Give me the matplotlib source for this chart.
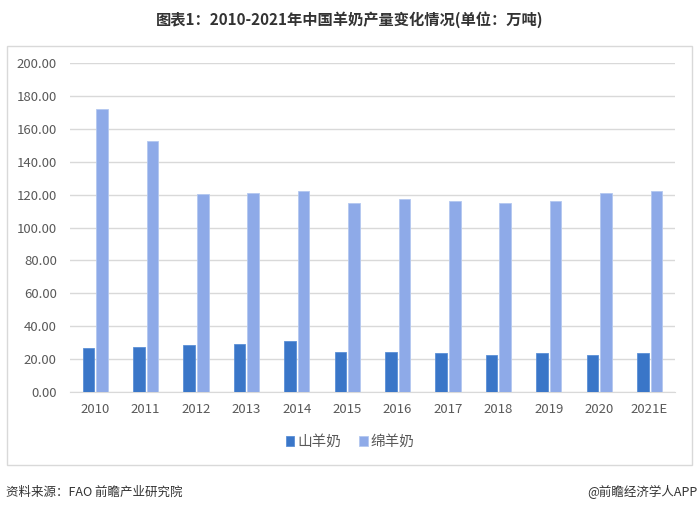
import matplotlib
matplotlib.use('Agg')
import matplotlib.pyplot as plt
import numpy as np
from matplotlib.patches import Rectangle

plt.rcParams['font.family'] = ['Noto Sans CJK SC', 'DejaVu Sans']

# data (万吨)
years = ['2010', '2011', '2012', '2013', '2014', '2015',
         '2016', '2017', '2018', '2019', '2020', '2021E']
goat_milk = [27.0, 27.6, 28.8, 29.4, 31.1, 24.0,
             24.0, 23.4, 22.7, 23.4, 22.7, 23.4]
sheep_milk = [172.0, 152.9, 120.4, 121.0, 122.2, 114.9,
              117.4, 116.1, 114.9, 116.1, 121.0, 122.2]
series_names = ['山羊奶', '绵羊奶']
y_ticks = np.arange(0, 201, 20)

fig = plt.figure(figsize=(7.0, 5.13), dpi=100)
fig.patch.set_facecolor('white')

# outer chart frame
fig.patches.append(Rectangle((0.01, 0.0936), 0.9786, 0.8167, transform=fig.transFigure,
                             fill=False, edgecolor='#d9d9d9', linewidth=1.0))

ax = fig.add_axes([0.10, 0.236, 0.864, 0.641])
x = np.arange(len(years))
w = 0.23
ax.bar(x - 0.135, goat_milk, w, color='#3a76c8', edgecolor='#5b8fd6',
       linewidth=0.6, label=series_names[0], zorder=3)
ax.bar(x + 0.135, sheep_milk, w, color='#8eaae8', edgecolor='#b3c8f0',
       linewidth=0.6, label=series_names[1], zorder=3)

ax.set_ylim(0, 200)
ax.set_xlim(-0.5, len(years) - 0.5)
ax.set_yticks(y_ticks)
ax.set_yticklabels(['{:.2f}'.format(v) for v in y_ticks])
ax.set_xticks(x)
ax.set_xticklabels(years)
ax.yaxis.grid(True, color='#d9d9d9', linewidth=1.0, zorder=0)
ax.tick_params(axis='both', length=0, labelsize=9.5, colors='#595959')
ax.tick_params(axis='x', pad=8)
ax.tick_params(axis='y', pad=9.5)
for side in ['top', 'right', 'left']:
    ax.spines[side].set_visible(False)
ax.spines['bottom'].set_color('#d9d9d9')

fig.legend(loc='center', bbox_to_anchor=(0.5, 0.138), ncol=2, frameon=False,
           fontsize=10.5, handlelength=0.6, handleheight=0.6, handletextpad=0.2,
           columnspacing=1.2, labelcolor='#595959')

fig.text(0.5, 0.962, '图表1：2010-2021年中国羊奶产量变化情况(单位：万吨)',
         ha='center', va='center', fontsize=11, fontweight='bold', color='#333333')
fig.text(0.008, 0.041, '资料来源：FAO 前瞻产业研究院', ha='left', va='center',
         fontsize=9, color='#333333')
fig.text(0.997, 0.041, '@前瞻经济学人APP', ha='right', va='center',
         fontsize=9, color='#333333')

fig.savefig('out.png', dpi=100, facecolor='white')
